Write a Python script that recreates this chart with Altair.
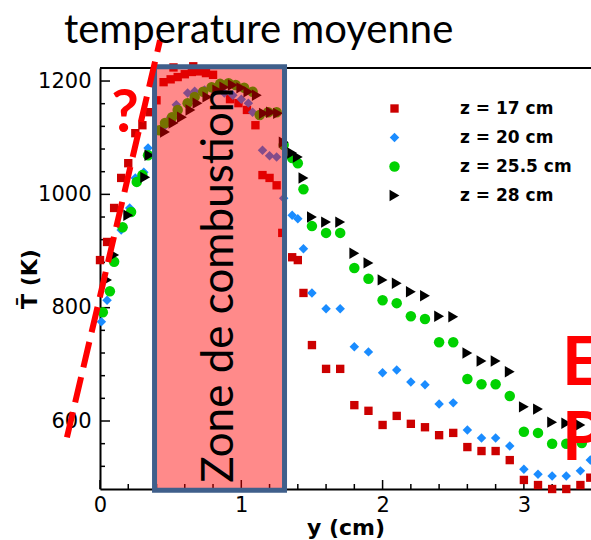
import altair as alt
import pandas as pd

# ---------------- data ----------------
series_names = ["z = 17 cm", "z = 20 cm", "z = 25.5 cm", "z = 28 cm"]
series_colors = ["#cc0000", "#1a8cff", "#00d200", "#000000"]
series_shapes = ["square", "diamond", "circle", "triangle-right"]
series_sizes = [70, 130, 100, 90]

red_y = [0.00, 0.05, 0.10, 0.15, 0.20, 0.25, 0.30, 0.35, 0.40, 0.45, 0.50, 0.52, 0.55, 0.60,
         0.65, 0.66, 0.70, 0.75, 0.80, 0.86, 0.92, 0.98, 1.04, 1.10, 1.15, 1.20, 1.25, 1.29,
         1.36, 1.40, 1.44, 1.50, 1.60, 1.70, 1.80, 1.90, 2.00, 2.10, 2.20, 2.30, 2.40, 2.50,
         2.60, 2.70, 2.80, 2.90, 3.00, 3.10, 3.20, 3.30, 3.40, 3.47]
red_T = [884, 916, 976, 1029, 1055, 1108, 1122, 1145, 1166, 1198, 1203, 1224, 1207, 1212,
         1216, 1226, 1217, 1214, 1211, 1193, 1168, 1161, 1149, 1122, 1034, 1029, 1016, 932,
         889, 884, 826, 734, 692, 692, 628, 618, 593, 609, 595, 589, 575, 579,
         554, 547, 547, 531, 496, 487, 480, 480, 487, 500]

blue_y = [0.01, 0.05, 0.10, 0.15, 0.21, 0.25, 0.31, 0.34, 0.45, 0.50, 0.54, 0.62, 0.67, 0.74,
          0.81, 0.88, 0.94, 1.00, 1.05, 1.08, 1.15, 1.20, 1.25, 1.30, 1.36, 1.40, 1.44, 1.50,
          1.60, 1.70, 1.80, 1.90, 2.00, 2.10, 2.20, 2.30, 2.40, 2.50, 2.60, 2.70, 2.80, 2.90,
          3.00, 3.10, 3.20, 3.30, 3.40, 3.47]
blue_T = [775, 813, 881, 937, 976, 1029, 1039, 1082, 1119, 1136, 1158, 1179, 1182, 1184,
          1182, 1179, 1175, 1168, 1161, 1145, 1078, 1068, 1066, 993, 963, 957, 904, 826,
          798, 798, 731, 722, 685, 690, 669, 664, 630, 632, 584, 570, 570, 556,
          515, 506, 503, 503, 512, 531]

green_y = [0.02, 0.07, 0.10, 0.16, 0.22, 0.26, 0.30, 0.34, 0.42, 0.46, 0.51, 0.55, 0.62, 0.67,
           0.73, 0.79, 0.85, 0.91, 0.96, 1.02, 1.08, 1.13, 1.19, 1.25, 1.30, 1.36, 1.40, 1.44,
           1.50, 1.60, 1.70, 1.80, 1.90, 2.00, 2.10, 2.20, 2.30, 2.40, 2.50, 2.60, 2.70, 2.80,
           2.90, 3.00, 3.10, 3.20, 3.30, 3.41]
green_T = [792, 829, 881, 942, 969, 1022, 1034, 1069, 1113, 1126, 1136, 1149, 1161, 1172,
           1181, 1189, 1195, 1196, 1193, 1188, 1181, 1140, 1145, 1145, 1087, 1064, 1055, 1009,
           944, 932, 932, 870, 851, 813, 808, 785, 780, 739, 739, 674, 665, 665,
           644, 581, 579, 560, 560, 561]

black_y = [0.05, 0.10, 0.20, 0.32, 0.35, 0.46, 0.52, 0.58, 0.64, 0.69, 0.76, 0.83, 0.88, 0.94,
           1.00, 1.05, 1.11, 1.16, 1.21, 1.26, 1.30, 1.36, 1.40, 1.44, 1.50, 1.60, 1.70, 1.80,
           1.90, 2.00, 2.10, 2.20, 2.30, 2.40, 2.50, 2.60, 2.70, 2.80, 2.90, 3.00, 3.10, 3.20,
           3.30, 3.40]
black_T = [849, 893, 963, 1030, 1069, 1110, 1126, 1136, 1149, 1161, 1172, 1184, 1189, 1193,
           1188, 1181, 1175, 1143, 1145, 1143, 1092, 1073, 1066, 1029, 960, 951, 951, 896,
           879, 849, 843, 828, 821, 785, 784, 720, 706, 706, 687, 625, 621, 598,
           596, 593]

# annotations (data coordinates)
zone_y = [0.386, 1.306]
zone_T = [478, 1225]
zone_label = "Zone de combustion"
dash_y = [-0.234, 0.425]
dash_T = [571, 1272]
title_text = "temperature moyenne"

x_major = [0, 1, 2, 3]
x_minor = [0.2, 0.4, 0.6, 0.8, 1.2, 1.4, 1.6, 1.8, 2.2, 2.4, 2.6, 2.8, 3.2, 3.4]
y_major = [600, 800, 1000, 1200]
y_minor = [520, 560, 640, 680, 720, 760, 840, 880, 920, 960, 1040, 1080, 1120, 1160]

X_DOMAIN = [0, 3.475]
T_DOMAIN = [480, 1223]

# ---------------- build ----------------
W, H = 491, 421

rows = []
for name, xs_, ts_ in zip(series_names,
                          [red_y, blue_y, green_y, black_y],
                          [red_T, blue_T, green_T, black_T]):
    for a, b in zip(xs_, ts_):
        rows.append({"x": a, "t": b, "serie": name})
df = pd.DataFrame(rows)
df["order"] = df["serie"].map({n: i for i, n in enumerate(series_names)})

xs = alt.Scale(domain=X_DOMAIN, nice=False, zero=False)
ys = alt.Scale(domain=T_DOMAIN, nice=False, zero=False)

LABEL_FONT = "DejaVu Sans"

x_axis = alt.Axis(values=x_major, format="d", title="y (cm)", ticks=False, grid=False,
                  labelFont=LABEL_FONT, labelFontSize=21, labelColor="black",
                  labelPadding=5, labelFlush=False,
                  titleFont=LABEL_FONT, titleFontSize=22, titleFontWeight="bold",
                  titleColor="black", titleY=45, titleBaseline="alphabetic",
                  domainColor="black", domainWidth=2)
y_axis = alt.Axis(values=y_major, format="d", title="T\u0304 (K)", ticks=False, grid=False,
                  labelFont=LABEL_FONT, labelFontSize=21, labelColor="black",
                  labelPadding=9, labelFlush=False,
                  titleFont=LABEL_FONT, titleFontSize=22, titleFontWeight="bold",
                  titleColor="black", titleX=-71, titleY=H / 2, titleBaseline="middle",
                  titleAngle=270, titleAlign="center",
                  domainColor="black", domainWidth=2)


def X(field):
    return alt.X(field, scale=xs, axis=x_axis)


def Y(field):
    return alt.Y(field, scale=ys, axis=y_axis)


points = alt.Chart(df).mark_point(filled=True, opacity=1, clip=False).encode(
    x=X("x:Q"),
    y=Y("t:Q"),
    color=alt.Color("serie:N", scale=alt.Scale(domain=series_names, range=series_colors),
                    sort=series_names,
                    legend=alt.Legend(orient="none", legendX=286, legendY=32, title=None,
                                      labelFont=LABEL_FONT, labelFontWeight="bold",
                                      labelFontSize=17, labelColor="black", labelOffset=57,
                                      rowPadding=11, padding=0, symbolStrokeWidth=0)),
    shape=alt.Shape("serie:N", scale=alt.Scale(domain=series_names, range=series_shapes),
                    sort=series_names),
    size=alt.Size("serie:N", scale=alt.Scale(domain=series_names, range=series_sizes),
                  sort=series_names),
    order=alt.Order("order:Q"),
)


def tick_layer(vals, axis, length):
    d = pd.DataFrame({"v": vals})
    base = alt.Chart(d).mark_rule(color="black", strokeWidth=1.5)
    if axis == "x":
        return base.encode(x=X("v:Q"), y=alt.value(H), y2=alt.value(H - length))
    return base.encode(y=Y("v:Q"), x=alt.value(0), x2=alt.value(length))


ticks = [tick_layer(x_major, "x", 9), tick_layer(x_minor, "x", 5),
         tick_layer(y_major, "y", 10), tick_layer(y_minor, "y", 5)]

top_line = alt.Chart(pd.DataFrame({"a": [0]})).mark_rule(color="black", strokeWidth=2).encode(
    x=alt.value(0), x2=alt.value(W), y=alt.value(0))

zone_df = pd.DataFrame({"x": [zone_y[0]], "x2": [zone_y[1]], "t": [zone_T[0]], "t2": [zone_T[1]]})
zone = alt.Chart(zone_df).mark_rect(fill="#ff0000", fillOpacity=0.46, stroke="#3f5f8b",
                                    strokeWidth=5, strokeOpacity=1, clip=False).encode(
    x=X("x:Q"), x2="x2:Q", y=Y("t:Q"), y2="t2:Q")

zone_text = alt.Chart(pd.DataFrame({"x": [0.94], "t": [491], "s": [zone_label]})).mark_text(
    angle=270, align="left", baseline="alphabetic", font="Lato", fontSize=44, color="black",
    clip=False).encode(x=X("x:Q"), y=Y("t:Q"), text="s:N")

dash = alt.Chart(pd.DataFrame({"x": dash_y, "t": dash_T})).mark_line(
    color="#ff0000", strokeWidth=6, strokeDash=[26, 10], clip=False).encode(
    x=X("x:Q"), y=Y("t:Q"))

qmark = alt.Chart(pd.DataFrame({"x": [0.177], "t": [1110], "s": ["?"]})).mark_text(
    align="center", baseline="alphabetic", font="Lato", fontWeight="bold", fontSize=60,
    color="#ff0000", clip=False).encode(x=X("x:Q"), y=Y("t:Q"), text="s:N")

big_letters = alt.Chart(pd.DataFrame({"x": [3.27, 3.27], "t": [663, 531], "s": ["E", "P"]})).mark_text(
    align="left", baseline="alphabetic", font="Lato", fontWeight="bold", fontSize=67,
    color="#ff0000", clip=False).encode(x=X("x:Q"), y=Y("t:Q"), text="s:N")

title = alt.Chart(pd.DataFrame({"x": [-0.255], "t": [1268], "s": [title_text]})).mark_text(
    align="left", baseline="alphabetic", font="Lato", fontSize=40, color="black",
    clip=False).encode(x=X("x:Q"), y=Y("t:Q"), text="s:N")

chart = alt.layer(*ticks, top_line, points, zone, zone_text, dash, qmark, big_letters, title).properties(
    width=W, height=H,
    autosize=alt.AutoSizeParams(type="none"),
    padding={"left": 100, "top": 68, "right": 0, "bottom": 51},
).configure_view(stroke=None).configure(background="white")

chart.save("out.html", embed_options={"renderer": "svg", "actions": False})
